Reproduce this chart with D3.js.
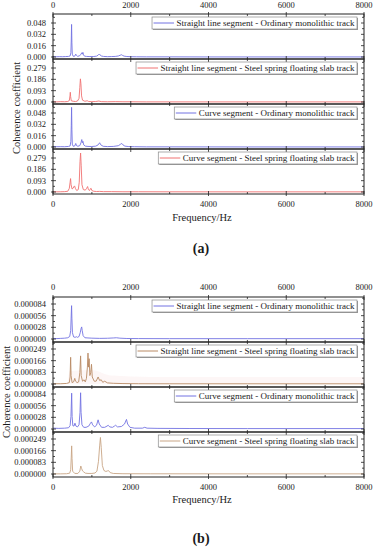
<!DOCTYPE html>
<html><head><meta charset="utf-8">
<script src="https://cdn.jsdelivr.net/npm/d3@7"></script>
<style>body{margin:0;background:#fff}svg{display:block}text{font-family:"Liberation Serif","Times New Roman","DejaVu Serif",serif;fill:#1a1a1a}</style>
</head><body><svg id="c" width="375" height="550"></svg>
<script>
// ---------- data ----------
const freqTicks = [0, 2000, 4000, 6000, 8000];
const freqMinorTicks = [1000, 3000, 5000, 7000];
const freqDomain = [0, 8000];

const yTicksA1 = [0, 0.016, 0.032, 0.048];
const yLabelsA1 = ["0.000", "0.016", "0.032", "0.048"];
const yTicksA2 = [0, 0.093, 0.186, 0.279];
const yLabelsA2 = ["0.000", "0.093", "0.186", "0.279"];
const yTicksB1 = [0, 0.000028, 0.000056, 0.000084];
const yLabelsB1 = ["0.000000", "0.000028", "0.000056", "0.000084"];
const yTicksB2 = [0, 0.000083, 0.000166, 0.000249];
const yLabelsB2 = ["0.000000", "0.000083", "0.000166", "0.000249"];

const legendNames = [
  "Straight line segment - Ordinary monolithic track",
  "Straight line segment - Steel spring floating slab track",
  "Curve segment - Ordinary monolithic track",
  "Curve segment - Steel spring floating slab track"
];

// [frequency Hz, coherence]
const aStraightOrdinary = [[0,0.0006],[80,0.0003],[160,0.0005],[240,0.0004],[320,0.0006],[400,0.0008],[440,0.0015],[460,0.006],[470,0.024],[478,0.046],[486,0.02],[496,0.004],[520,0.001],[560,0.0012],[585,0.004],[600,0.0025],[630,0.001],[680,0.0015],[720,0.004],[740,0.006],[755,0.004],[770,0.0065],[785,0.003],[810,0.0012],[860,0.0008],[950,0.0006],[1050,0.0007],[1120,0.0012],[1160,0.0025],[1190,0.0042],[1210,0.003],[1240,0.0015],[1300,0.0008],[1400,0.0005],[1500,0.0006],[1600,0.0008],[1680,0.0014],[1730,0.0025],[1760,0.0032],[1790,0.0022],[1830,0.0012],[1900,0.0007],[2000,0.0004],[2150,0.0003],[2400,0.0002],[3000,0.0002],[4000,0.0001],[6000,0.0001],[8000,0.0001]];
const aStraightSpring = [[0,0.002],[100,0.001],[200,0.003],[300,0.002],[380,0.004],[420,0.012],[437,0.05],[445,0.08],[453,0.045],[470,0.01],[520,0.006],[580,0.004],[630,0.008],[670,0.03],[690,0.12],[705,0.19],[718,0.15],[735,0.05],[760,0.015],[820,0.006],[880,0.01],[920,0.004],[1000,0.003],[1100,0.004],[1180,0.008],[1240,0.003],[1400,0.002],[1600,0.003],[1800,0.002],[2000,0.002],[2400,0.001],[3000,0.001],[4000,0.0008],[6000,0.0008],[8000,0.0008]];
const aCurveOrdinary = [[0,0.0006],[100,0.0004],[200,0.0005],[300,0.0004],[400,0.0008],[440,0.0015],[460,0.008],[470,0.03],[478,0.056],[486,0.025],[496,0.004],[520,0.001],[560,0.0015],[585,0.005],[605,0.002],[640,0.001],[690,0.002],[720,0.006],[740,0.0105],[755,0.006],[770,0.008],[790,0.003],[830,0.0012],[900,0.0008],[1000,0.0007],[1100,0.0012],[1160,0.003],[1200,0.006],[1230,0.003],[1290,0.001],[1400,0.0006],[1550,0.0008],[1680,0.0018],[1740,0.004],[1770,0.005],[1800,0.003],[1850,0.0012],[1950,0.0006],[2100,0.0004],[2400,0.0002],[3000,0.0002],[5000,0.0001],[8000,0.0001]];
const aCurveSpring = [[0,0.002],[100,0.0015],[200,0.002],[300,0.003],[380,0.006],[420,0.03],[440,0.08],[452,0.11],[465,0.06],[490,0.025],[515,0.03],[540,0.045],[555,0.05],[575,0.03],[610,0.012],[650,0.02],[675,0.08],[695,0.25],[710,0.32],[725,0.22],[745,0.06],[780,0.02],[830,0.015],[865,0.03],[890,0.045],[910,0.02],[940,0.012],[965,0.028],[980,0.03],[1000,0.012],[1050,0.006],[1120,0.004],[1200,0.005],[1300,0.003],[1500,0.003],[1800,0.002],[2200,0.002],[3000,0.0015],[5000,0.0012],[8000,0.0012]];

const bStraightOrdinary = [[0,0.0000015],[100,0.000001],[200,0.0000015],[300,0.000002],[380,0.000003],[430,0.000006],[455,0.00002],[470,0.00006],[478,0.00008],[486,0.00005],[500,0.000015],[530,0.000005],[570,0.000004],[600,0.0000055],[630,0.000004],[670,0.000006],[700,0.000015],[725,0.000026],[738,0.000029],[752,0.00002],[775,0.000008],[820,0.000003],[900,0.0000025],[1000,0.000002],[1200,0.0000015],[1400,0.0000018],[1550,0.0000025],[1630,0.000003],[1720,0.000002],[1900,0.0000012],[2200,0.000001],[3000,0.0000008],[5000,0.0000008],[8000,0.0000008]];
const bStraightSpring = [[0,0.000002],[200,0.000002],[350,0.000004],[420,0.00001],[440,0.00005],[454,0.00019],[465,0.00006],[490,0.00001],[530,0.000015],[560,0.00004],[580,0.00002],[620,0.00001],[660,0.000015],[690,0.00008],[710,0.0002],[725,0.00006],[760,0.00002],[800,0.00003],[830,0.000015],[860,0.00004],[885,0.00012],[900,0.00022],[915,0.00012],[930,0.00018],[948,0.00006],[970,0.00008],[990,0.00014],[1010,0.00005],[1060,0.00002],[1110,0.00002],[1160,0.00005],[1200,0.000025],[1240,0.00003],[1280,0.000012],[1330,0.00002],[1400,0.000008],[1550,0.000005],[1800,0.000003],[2200,0.000002],[3000,0.0000015],[5000,0.0000015],[8000,0.0000015]];
const bStraightSpringHaze = [[380,0],[430,0.00009],[1000,0.0001],[1500,0.00006],[2500,0.00005],[8000,0.00005]];
const bCurveOrdinary = [[0,0.000002],[150,0.0000015],[300,0.000002],[400,0.000003],[440,0.000008],[462,0.00003],[480,0.000086],[492,0.00003],[510,0.000008],[540,0.000007],[565,0.000014],[590,0.000007],[630,0.000005],[670,0.00001],[695,0.00004],[710,0.000087],[722,0.00004],[745,0.00001],[790,0.000004],[850,0.000004],[920,0.000007],[965,0.000014],[990,0.000017],[1020,0.00001],[1070,0.000005],[1120,0.000009],[1160,0.000022],[1190,0.000012],[1250,0.000004],[1330,0.000004],[1390,0.000007],[1420,0.000009],[1460,0.000005],[1530,0.000004],[1580,0.000007],[1610,0.000009],[1660,0.000005],[1760,0.000006],[1840,0.000012],[1890,0.000023],[1920,0.000012],[1980,0.000004],[2100,0.000002],[2300,0.000002],[2360,0.000004],[2420,0.000002],[2700,0.0000015],[3500,0.0000012],[5000,0.000001],[8000,0.000001]];
const bCurveSpring = [[0,0.000001],[200,0.000001],[350,0.000002],[430,0.000006],[455,0.00003],[470,0.00012],[480,0.0002],[490,0.00011],[505,0.00002],[560,0.000004],[640,0.000004],[690,0.00002],[715,0.000057],[735,0.00004],[760,0.000022],[790,0.000015],[830,0.000006],[900,0.000004],[1000,0.000004],[1080,0.000007],[1130,0.00002],[1170,0.00009],[1200,0.0002],[1220,0.00026],[1240,0.00019],[1270,0.00006],[1310,0.000025],[1360,0.000018],[1400,0.000022],[1430,0.000024],[1470,0.00001],[1550,0.000004],[1800,0.000002],[2500,0.0000015],[5000,0.000001],[8000,0.000001]];

// ---------- styles / layout ----------
const FONT = '"Liberation Serif","Times New Roman","DejaVu Serif",serif';
const BLUE = "#7373e2", RED = "#f07272", BROWN = "#b98a64", TAN = "#c8a585";
const figures = [
  { top: 14, bottom: 194, zeroOff: 2, topOff: 9, topLabY: 8, botLabY: 207, titleY: 221, tag: "(a)", tagY: 253, yTitleX: 20, yTitleY: 108,
    panels: [
      { data: aStraightOrdinary, color: BLUE, ticks: yTicksA1, labels: yLabelsA1, name: legendNames[0] },
      { data: aStraightSpring, color: RED, ticks: yTicksA2, labels: yLabelsA2, name: legendNames[1] },
      { data: aCurveOrdinary, color: BLUE, ticks: yTicksA1, labels: yLabelsA1, name: legendNames[2] },
      { data: aCurveSpring, color: RED, ticks: yTicksA2, labels: yLabelsA2, name: legendNames[3] }
    ] },
  { top: 297, bottom: 477, zeroOff: 3, topOff: 7, topLabY: 290, botLabY: 490, titleY: 503, tag: "(b)", tagY: 543, yTitleX: 10, yTitleY: 392,
    panels: [
      { data: bStraightOrdinary, color: BLUE, ticks: yTicksB1, labels: yLabelsB1, name: legendNames[0] },
      { data: bStraightSpring, color: BROWN, ticks: yTicksB2, labels: yLabelsB2, name: legendNames[1], haze: bStraightSpringHaze },
      { data: bCurveOrdinary, color: BLUE, ticks: yTicksB1, labels: yLabelsB1, name: legendNames[2] },
      { data: bCurveSpring, color: TAN, ticks: yTicksB2, labels: yLabelsB2, name: legendNames[3] }
    ] }
];

const svg = d3.select("#c");
const x = d3.scaleLinear().domain(freqDomain).range([53, 364]);
const L = 53, R = 364;
let clipId = 0;

figures.forEach(fig => {
  const n = fig.panels.length;
  const ph = (fig.bottom - fig.top) / n;
  fig.panels.forEach((p, i) => {
    const pt = fig.top + i * ph, pb = pt + ph;
    const y = d3.scaleLinear().domain([0, p.ticks[p.ticks.length - 1]])
      .range([pb - fig.zeroOff, pt + fig.topOff]);
    const g = svg.append("g");
    const cid = "clip" + (clipId++);
    svg.append("clipPath").attr("id", cid).append("rect")
      .attr("x", L).attr("y", pt).attr("width", R - L).attr("height", ph);
    const plot = g.append("g").attr("clip-path", `url(#${cid})`);
    if (p.haze) {
      plot.append("path").datum(p.haze)
        .attr("d", d3.area().x(d => x(d[0])).y0(y(0)).y1(d => y(d[1])).curve(d3.curveMonotoneX))
        .attr("fill", "#f6d6d6").attr("opacity", 0.22);
    }
    plot.append("path").datum(p.data)
      .attr("d", d3.line().x(d => x(d[0])).y(d => y(d[1])))
      .attr("fill", "none").attr("stroke", p.color).attr("stroke-width", 0.9)
      .attr("stroke-linejoin", "round");

    // frame
    g.append("rect").attr("x", L).attr("y", pt).attr("width", R - L).attr("height", ph)
      .attr("fill", "none").attr("stroke", "#222").attr("stroke-width", 1);

    // x ticks on top and bottom (inward)
    const tk = g.append("g").attr("stroke", "#222").attr("stroke-width", 0.8);
    freqTicks.forEach(f => {
      tk.append("line").attr("x1", x(f)).attr("x2", x(f)).attr("y1", pt).attr("y2", pt + 3);
      tk.append("line").attr("x1", x(f)).attr("x2", x(f)).attr("y1", pb).attr("y2", pb - 3);
    });
    freqMinorTicks.forEach(f => {
      tk.append("line").attr("x1", x(f)).attr("x2", x(f)).attr("y1", pt).attr("y2", pt + 2);
      tk.append("line").attr("x1", x(f)).attr("x2", x(f)).attr("y1", pb).attr("y2", pb - 2);
    });
    // y ticks
    const step = p.ticks[1] - p.ticks[0];
    const minor = [];
    for (let k = 0; k < p.ticks.length; k++) minor.push(p.ticks[k] + step / 2);
    p.ticks.forEach(v => {
      tk.append("line").attr("x1", L - 2).attr("x2", L + 3).attr("y1", y(v)).attr("y2", y(v));
      tk.append("line").attr("x1", R).attr("x2", R - 3).attr("y1", y(v)).attr("y2", y(v));
    });
    minor.filter(v => y(v) > pt + 1).forEach(v => {
      tk.append("line").attr("x1", L).attr("x2", L + 2).attr("y1", y(v)).attr("y2", y(v));
      tk.append("line").attr("x1", R).attr("x2", R - 2).attr("y1", y(v)).attr("y2", y(v));
    });
    p.ticks.forEach((v, k) => {
      g.append("text").attr("x", 46).attr("y", y(v) + 3).attr("text-anchor", "end")
        .attr("font-family", FONT).attr("font-size", 8.5).text(p.labels[k]);
    });

    // legend
    const lg = g.append("g");
    const txt = lg.append("text").attr("font-family", FONT).attr("font-size", 9).text(p.name);
    const w = txt.node().getComputedTextLength();
    const bx = 357 - (w + 27), by = pt + 3, bh = 12;
    lg.insert("rect", "text").attr("x", bx + 1).attr("y", by + 1).attr("width", w + 27).attr("height", bh).attr("fill", "#9a9a9a");
    lg.insert("rect", "text").attr("x", bx).attr("y", by).attr("width", w + 27).attr("height", bh)
      .attr("fill", "#fff").attr("stroke", "#8a8a8a").attr("stroke-width", 0.7);
    lg.append("line").attr("x1", bx + 1.5).attr("x2", bx + 22).attr("y1", by + bh / 2).attr("y2", by + bh / 2)
      .attr("stroke", p.color).attr("stroke-width", 1);
    txt.attr("x", bx + 24.5).attr("y", by + 9);
  });

  // x tick labels
  freqTicks.forEach(f => {
    svg.append("text").attr("x", x(f)).attr("y", fig.topLabY).attr("text-anchor", "middle").attr("font-family", FONT).attr("font-size", 8.5).text(f);
    svg.append("text").attr("x", x(f)).attr("y", fig.botLabY).attr("text-anchor", "middle").attr("font-family", FONT).attr("font-size", 8.5).text(f);
  });
  // outer ticks (top, bottom)
  const ot = svg.append("g").attr("stroke", "#222").attr("stroke-width", 0.8);
  freqTicks.forEach(f => {
    ot.append("line").attr("x1", x(f)).attr("x2", x(f)).attr("y1", fig.top).attr("y2", fig.top - 2);
    ot.append("line").attr("x1", x(f)).attr("x2", x(f)).attr("y1", fig.bottom).attr("y2", fig.bottom + 2);
  });
  svg.append("text").attr("x", 202).attr("y", fig.titleY).attr("text-anchor", "middle").attr("font-family", FONT).attr("font-size", 10.5).text("Frequency/Hz");
  svg.append("text").attr("transform", `translate(${fig.yTitleX},${fig.yTitleY}) rotate(-90)`)
    .attr("text-anchor", "middle").attr("font-family", FONT).attr("font-size", 10.5).text("Coherence coefficient");
  svg.append("text").attr("x", 201).attr("y", fig.tagY).attr("text-anchor", "middle")
    .attr("font-family", FONT).attr("font-size", 14).attr("font-weight", "bold").text(fig.tag);
});
</script></body></html>
